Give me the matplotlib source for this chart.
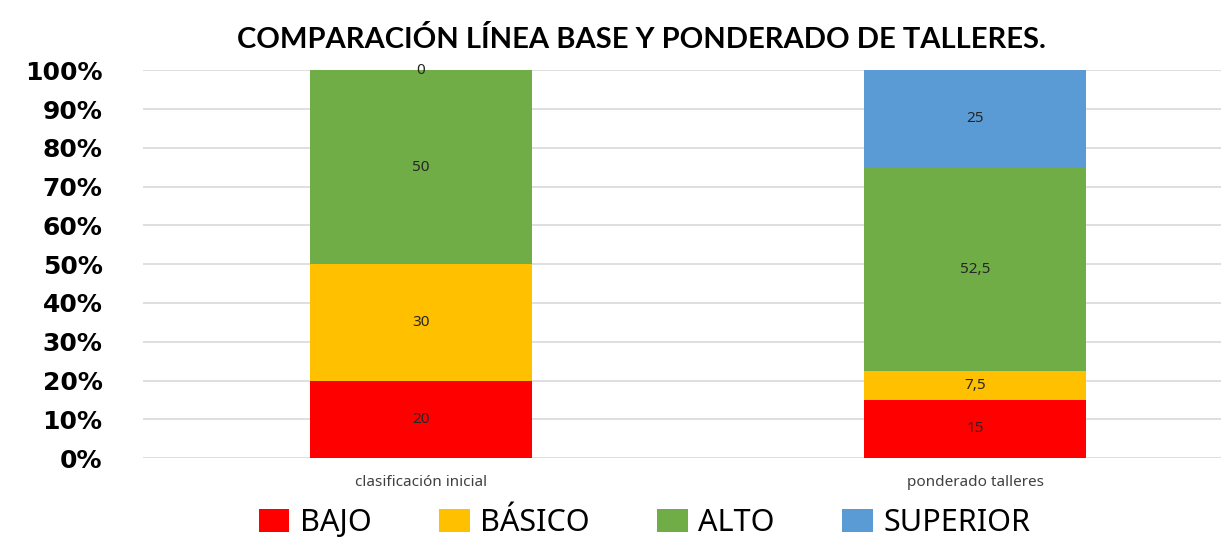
import matplotlib
matplotlib.use("Agg")
import matplotlib.pyplot as plt
from matplotlib.ticker import PercentFormatter

# data
categories = ["clasificación inicial", "ponderado talleres"]
series_names = ["BAJO", "BÁSICO", "ALTO", "SUPERIOR"]
bajo = [20, 15]
basico = [30, 7.5]
alto = [50, 52.5]
superior = [0, 25]
colors = ["#ff0000", "#ffc000", "#70ad47", "#5b9bd5"]

series = [bajo, basico, alto, superior]

plt.rcParams['font.family'] = ['Noto Sans', 'DejaVu Sans']

fig = plt.figure(figsize=(12.21, 5.37), dpi=100)
ax = fig.add_axes([0.117, 0.147, 0.883, 0.722])

x = list(range(len(categories)))
bottoms = [0] * len(categories)
handles = []
for name, vals, col in zip(series_names, series, colors):
    totals = [sum(s[i] for s in series) for i in x]
    frac = [v / t for v, t in zip(vals, totals)]
    bars = ax.bar(x, frac, width=0.4, bottom=bottoms, color=col, label=name, zorder=2)
    handles.append(bars)
    for i, b in enumerate(bars):
        lbl = ("%g" % vals[i]).replace(".", ",")
        ax.text(b.get_x() + b.get_width() / 2, bottoms[i] + frac[i] / 2, lbl,
                ha="center", va="center", fontsize=11, color="#262626", zorder=3)
    bottoms = [bt + f for bt, f in zip(bottoms, frac)]

ax.set_ylim(0, 1)
ax.set_xlim(-0.502, 1.444)
ax.set_yticks([i / 10 for i in range(11)])
ax.yaxis.set_major_formatter(PercentFormatter(1.0, decimals=0))
for t in ax.get_yticklabels():
    t.set_fontfamily("DejaVu Sans")
    t.set_fontweight("bold")
    t.set_fontsize(18)
ax.tick_params(axis="y", length=0, pad=29)
ax.tick_params(axis="x", length=0, pad=12, labelsize=11, labelcolor="#404040")
ax.set_xticks(x)
ax.set_xticklabels(categories)
ax.grid(axis="y", color="#d9d9d9", linewidth=1.2, zorder=0)
for s in ax.spines.values():
    s.set_visible(False)

fig.text(0.525, 1 - 40 / 537, "COMPARACIÓN LÍNEA BASE Y PONDERADO DE TALLERES.",
         ha="center", va="center", fontsize=21, fontweight="bold", family="Lato")

fig.legend(handles=handles, labels=series_names, loc="center", ncol=4,
           bbox_to_anchor=(0.528, 1 - 523 / 537), frameon=False, fontsize=22,
           handlelength=1.0, handleheight=0.8, handletextpad=0.35, columnspacing=2.2,
           borderpad=0.1)

fig.savefig("out.png", dpi=100)
